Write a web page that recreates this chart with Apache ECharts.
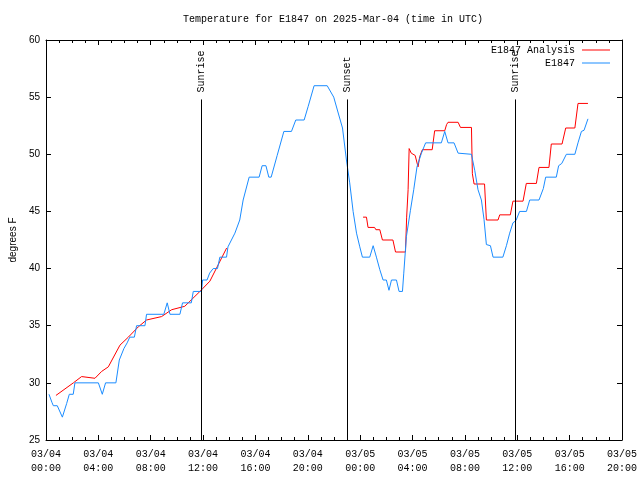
<!DOCTYPE html>
<html>
<head>
<meta charset="utf-8">
<script src="https://cdn.jsdelivr.net/npm/echarts@6/dist/echarts.min.js"></script>
<style>html,body{margin:0;padding:0;background:#fff}#c{width:640px;height:480px}</style>
</head>
<body>
<div id="c"></div>
<script>
// Hours since 03/04 00:00 UTC
const blueHours = [0.23,0.45,0.56,0.86,1.25,1.58,1.78,2.08,2.21,4.0,4.3,4.55,5.34,5.6,5.95,6.2,6.4,6.75,6.92,7.56,7.68,9.0,9.26,9.47,10.23,10.43,11.1,11.25,11.88,11.96,12.3,12.5,12.77,13.1,13.28,13.79,13.9,14.43,14.8,15.06,15.52,16.28,16.51,16.8,17.02,17.2,17.66,18.17,18.75,19.08,19.72,20.03,20.48,21.48,21.98,22.3,22.65,22.95,23.2,23.46,23.72,23.97,24.17,24.73,24.99,25.24,25.5,25.75,26.0,26.2,26.39,26.77,26.97,27.23,27.33,27.53,27.84,28.09,28.34,28.68,29.0,30.2,30.46,30.71,31.17,31.48,32.5,32.75,33.0,33.26,33.46,33.64,33.95,34.15,34.9,35.17,35.42,35.67,35.9,36.18,36.7,36.95,37.66,37.99,38.17,38.98,39.16,39.4,39.75,40.4,40.64,40.9,41.1,41.4];
const blueTemps = [29,28.3,28,28,27,28.2,29,29,30,30,29,30,30,32,33,33.5,34,34,35,35,36,36,37,36,36,37,37,38,38,39,39,39.6,40,40,41,41,41.9,43.1,44.25,46,48,48,49,49,48,48,49.9,52,52,53,53,54.2,56,56,55,53.7,52.3,49.5,47.5,45,43.1,41.9,41,41,42,41,39.9,39,39,38.1,39,39,38,38,39.6,42.8,45.1,46.9,48.9,50.1,51,51,52,51,51,50.1,50,48.6,46.9,46,44.3,42.1,42,41,41,42,43.1,44,44.2,45,45,46,46,47,48,48,49,49.2,50,50,51,52,52.1,53.1];

const redHours = [0.76,2.09,2.72,3.74,4.25,4.76,5.65,6.29,7.05,7.68,8.83,9.6,10.6,11.76,12.52,13.8,18,24.22,24.48,24.6,25.1,25.2,25.5,25.7,26.5,26.7,27.46,27.55,27.66,27.74,27.9,28.2,28.42,28.55,28.75,29.5,29.69,30.46,30.6,30.71,31.48,31.66,32.5,32.57,32.7,33.5,33.64,34.53,34.66,35.47,35.67,36.44,36.69,37.46,37.66,38.42,38.6,39.42,39.7,40.4,40.64,41.4];
const redTemps = [28.9,30.0,30.55,30.4,31.0,31.4,33.3,34.0,34.9,35.5,35.8,36.4,36.7,38.0,38.9,41.8,null,44.5,44.5,43.6,43.6,43.4,43.4,42.5,42.5,41.45,41.45,44.5,46.9,50.5,50.1,49.9,48.9,49.8,50.4,50.4,52.06,52.06,52.6,52.8,52.8,52.35,52.35,48.3,47.4,47.4,44.25,44.25,44.7,44.7,45.9,45.9,47.45,47.45,48.85,48.85,50.9,50.9,52.3,52.3,54.45,54.45];

const eventHours = [11.85, 23.03, 35.8];
const eventLabels = ['Sunrise', 'Sunset', 'Sunrise'];
const eventTop = 54.8;

const xTickLabels = ['03/04\n00:00','03/04\n04:00','03/04\n08:00','03/04\n12:00','03/04\n16:00','03/04\n20:00','03/05\n00:00','03/05\n04:00','03/05\n08:00','03/05\n12:00','03/05\n16:00','03/05\n20:00'];

const seriesNames = ['E1847 Analysis', 'E1847'];
const titleText = 'Temperature for E1847 on 2025-Mar-04 (time in UTC)';

const mono = '"Liberation Mono", "DejaVu Sans Mono", monospace';
const sans = '"Liberation Sans", Arial, sans-serif';
const RED = '#ff0000', BLUE = '#1a8cff';
const X_MIN = 0, X_MAX = 44, Y_MIN = 25, Y_MAX = 60;

const chart = echarts.init(document.getElementById('c'), null, {renderer: 'canvas'});

const baseX = {
  type: 'value', min: X_MIN, max: X_MAX, interval: 4,
  axisLine: {show: true, onZero: false, lineStyle: {color: '#000', width: 1}},
  axisTick: {show: true, inside: true, length: 5, lineStyle: {color: '#000'}},
  minorTick: {show: true, splitNumber: 4, length: 3, lineStyle: {color: '#000'}},
  splitLine: {show: false}, minorSplitLine: {show: false}
};
const baseY = {
  type: 'value', min: Y_MIN, max: Y_MAX, interval: 5,
  axisLine: {show: true, onZero: false, lineStyle: {color: '#000', width: 1}},
  axisTick: {show: true, inside: true, length: 5, lineStyle: {color: '#000'}},
  splitLine: {show: false}
};

const legendIcon = 'path://M0,0 H28 V1 H0 Z';

chart.setOption({
  animation: false,
  backgroundColor: '#fff',
  title: {
    text: titleText, left: 328, top: 9, textAlign: 'center',
    textStyle: {fontFamily: mono, fontSize: 10, fontWeight: 'normal', color: '#000'}
  },
  legend: {
    data: seriesNames.map(n => ({name: n, icon: legendIcon})),
    orient: 'vertical', right: 30, top: 45, align: 'right',
    itemWidth: 28, itemHeight: 10, itemGap: 3, padding: 0,
    textStyle: {fontFamily: mono, fontSize: 10, color: '#000', padding: [0, 2, 0, 0]},
    selectedMode: false
  },
  grid: {left: 46, right: 18, top: 40, bottom: 40, containLabel: false, outerBoundsMode: 'none'},
  xAxis: [
    Object.assign({}, baseX, {
      position: 'bottom',
      axisLabel: {
        show: true, margin: 7, color: '#000', fontFamily: mono, fontSize: 10, lineHeight: 14,
        formatter: v => xTickLabels[Math.round(v / 4)] || ''
      }
    }),
    Object.assign({}, baseX, {position: 'top', axisLabel: {show: false}})
  ],
  yAxis: [
    Object.assign({}, baseY, {
      position: 'left',
      name: 'degrees F', nameLocation: 'middle', nameGap: 28, nameRotate: 90,
      nameTextStyle: {fontFamily: sans, fontSize: 10, color: '#000'},
      axisLabel: {show: true, margin: 6, color: '#000', fontFamily: sans, fontSize: 10}
    }),
    Object.assign({}, baseY, {position: 'right', axisLabel: {show: false}})
  ],
  series: [
    {
      name: seriesNames[0], type: 'line', xAxisIndex: 0, yAxisIndex: 0,
      data: redHours.map((h, i) => [h, redTemps[i] === null ? '-' : redTemps[i]]),
      symbol: 'none', showSymbol: false, connectNulls: false,
      lineStyle: {color: RED, width: 1}, itemStyle: {color: RED}, z: 3
    },
    {
      name: seriesNames[1], type: 'line', xAxisIndex: 0, yAxisIndex: 0,
      data: blueHours.map((h, i) => [h, blueTemps[i]]),
      symbol: 'none', showSymbol: false,
      lineStyle: {color: BLUE, width: 1}, itemStyle: {color: BLUE}, z: 4
    },
    {
      name: 'events', type: 'custom', xAxisIndex: 0, yAxisIndex: 0, silent: true, clip: false, z: 5,
      data: eventHours.map((h, i) => [h, i]),
      encode: {x: 0},
      renderItem: function (params, api) {
        const h = api.value(0);
        const i = api.value(1);
        const p0 = api.coord([h, Y_MIN]);
        const p1 = api.coord([h, eventTop]);
        const x = Math.round(p0[0]) + 0.5;
        return {
          type: 'group',
          children: [
            {type: 'line', shape: {x1: x, y1: p0[1], x2: x, y2: p1[1]},
             style: {stroke: '#000', lineWidth: 1}},
            {type: 'text', x: x, y: p1[1] - 7, rotation: Math.PI / 2,
             style: {text: eventLabels[i], fontFamily: mono, fontSize: 10, fill: '#000',
                     align: 'left', verticalAlign: 'middle'}}
          ]
        };
      }
    }
  ]
});
</script>
</body>
</html>
